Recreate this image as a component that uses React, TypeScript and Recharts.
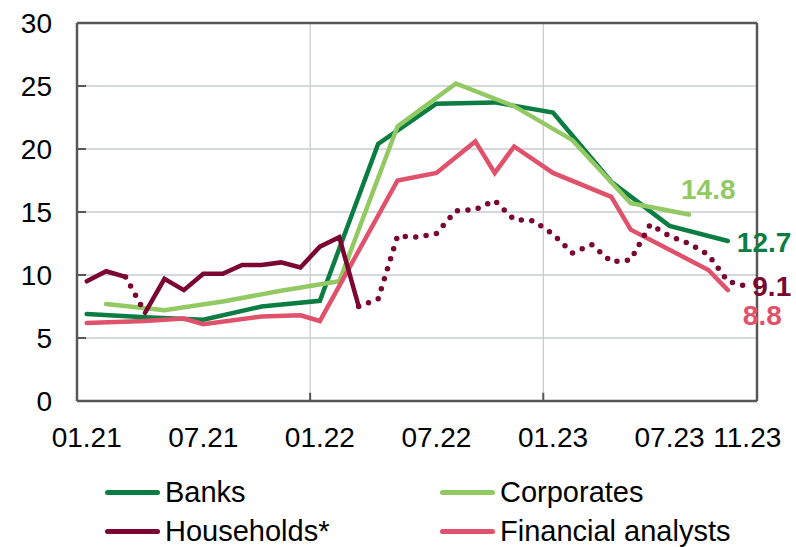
import React from 'react';
import { LineChart, Line, XAxis, YAxis, CartesianGrid, ReferenceLine } from 'recharts';

// ---- data ----
const tickMonths = [0, 6, 12, 18, 24, 30, 34];
const tickLabels = ['01.21', '07.21', '01.22', '07.22', '01.23', '07.23', '11.23'];
const yTicks = [0, 5, 10, 15, 20, 25, 30];
const yearStarts = [12, 24];

const banksMonths = [0, 3, 6, 9, 12, 15, 18, 21, 24, 27, 30, 33];
const banksValues = [6.9, 6.65, 6.45, 7.5, 7.95, 20.4, 23.6, 23.7, 22.9, 17.4, 13.9, 12.7];

const corpMonths = [1, 4, 7, 10, 13, 16, 19, 22, 25, 28, 31];
const corpValues = [7.7, 7.2, 7.9, 8.75, 9.5, 21.8, 25.2, 23.4, 20.7, 15.7, 14.8];

const hhValues = [
  9.5, 10.3, 9.85, 7.0, 9.7, 8.8, 10.1, 10.1, 10.8, 10.8, 11.0, 10.6, 12.25, 13.0, 7.5,
  8.1, 13.1, 13.0, 13.3, 15.1, 15.2, 15.9, 14.4, 14.3, 13.25, 11.75, 12.4, 11.05, 11.2,
  14.0, 13.1, 12.5, 11.6, 9.5, 9.1,
];
const hhSolidRanges: [number, number][] = [[0, 2], [3, 14]];
const hhDottedRanges: [number, number][] = [[2, 3], [14, 34]];

const faMonths = [0, 3, 5, 6, 9, 11, 12, 16, 18, 20, 21, 22, 24, 27, 28, 32, 33];
const faValues = [6.2, 6.35, 6.55, 6.1, 6.7, 6.8, 6.35, 17.5, 18.1, 20.6, 18.1, 20.2, 18.1, 16.2, 13.6, 10.4, 8.8];

// ---- styles ----
const C_BANKS = '#0B7D42';
const C_CORP = '#92C963';
const C_HH = '#7A0631';
const C_FA = '#E0526B';
const C_GRID = '#C8CCD1';
const C_AXIS = '#575757';
const FONT = '"Liberation Sans", Arial, Helvetica, sans-serif';

const toPoints = (months: number[], values: number[]) =>
  months.map((m, k) => ({ x: m + 0.5, v: values[k] }));

const rangePoints = (values: number[], r: [number, number]) => {
  const out: { x: number; v: number }[] = [];
  for (let i = r[0]; i <= r[1]; i++) out.push({ x: i + 0.5, v: values[i] });
  return out;
};

const banksData = toPoints(banksMonths, banksValues);
const corpData = toPoints(corpMonths, corpValues);
const faData = toPoints(faMonths, faValues);
const hhSolid = hhSolidRanges.map((r) => rangePoints(hhValues, r));
const hhDotted = hhDottedRanges.map((r) => rangePoints(hhValues, r));

const endLabel = (n: number, color: string, dx: number, dy: number) => (props: any) => {
  const { x, y, index, value } = props;
  if (index !== n - 1) return <g />;
  return (
    <text x={x + dx} y={y + dy} fill={color} fontSize={28} fontWeight="bold" fontFamily={FONT}>
      {Number(value).toFixed(1)}
    </text>
  );
};

const YTick = (props: any) => {
  const { x, y, payload } = props;
  return (
    <g>
      <line x1={x + 25} x2={x + 34} y1={y} y2={y} stroke={C_AXIS} strokeWidth={2} />
      <text x={x} y={y} dy="0.36em" textAnchor="end" fontSize={28} fontFamily={FONT} fill="#000">
        {payload.value}
      </text>
    </g>
  );
};

const XTick = (props: any) => {
  const { x, y, payload } = props;
  const k = tickMonths.indexOf(payload.value - 0.5);
  return (
    <text x={x} y={y} dy="0.72em" textAnchor="middle" fontSize={28} fontFamily={FONT} fill="#000">
      {tickLabels[k]}
    </text>
  );
};

const legendItems = [
  { name: 'Banks', color: C_BANKS, left: 105, top: 492 },
  { name: 'Corporates', color: C_CORP, left: 440, top: 492 },
  { name: 'Households*', color: C_HH, left: 105, top: 531 },
  { name: 'Financial analysts', color: C_FA, left: 440, top: 531 },
];

export default function App() {
  const lineCommon = {
    type: 'linear' as const,
    dataKey: 'v',
    dot: false,
    activeDot: false,
    isAnimationActive: false,
    strokeLinecap: 'round' as const,
  };
  return (
    <div style={{ position: 'relative', width: 796, height: 547, background: '#fff', overflow: 'hidden' }}>
      <style>{`body{margin:0;}`}</style>
      <LineChart width={796} height={547} margin={{ top: 23, right: 39, left: 0, bottom: 0 }}>
        <CartesianGrid vertical={false} stroke={C_GRID} strokeWidth={1.3} />
        {yearStarts.map((m) => (
          <ReferenceLine key={'g' + m} x={m} stroke={C_GRID} strokeWidth={1.3} />
        ))}
        <XAxis
          type="number"
          dataKey="x"
          domain={[0, 35]}
          ticks={tickMonths.map((m) => m + 0.5)}
          interval={0}
          allowDataOverflow
          height={146}
          tickSize={0}
          tickMargin={26}
          tickLine={false}
          axisLine={{ stroke: C_AXIS, strokeWidth: 2.5 }}
          tick={<XTick />}
        />
        <YAxis
          type="number"
          domain={[0, 30]}
          ticks={yTicks}
          interval={0}
          width={77}
          tickSize={0}
          tickMargin={25}
          tickLine={false}
          axisLine={{ stroke: C_AXIS, strokeWidth: 2.5 }}
          tick={<YTick />}
        />
        {yearStarts.map((m) => (
          <ReferenceLine
            key={'t' + m}
            segment={[{ x: m, y: 0 }, { x: m, y: 0.65 }]}
            stroke={C_AXIS}
            strokeWidth={2}
          />
        ))}
        <Line {...lineCommon} data={banksData} stroke={C_BANKS} strokeWidth={4.5}
          label={endLabel(banksData.length, C_BANKS, 9, 11)} />
        <Line {...lineCommon} data={corpData} stroke={C_CORP} strokeWidth={4.5}
          label={endLabel(corpData.length, C_CORP, -8, -16)} />
        <Line {...lineCommon} data={faData} stroke={C_FA} strokeWidth={4.5}
          label={endLabel(faData.length, C_FA, 15, 35)} />
        {hhSolid.map((d, k) => (
          <Line key={'hs' + k} {...lineCommon} data={d} stroke={C_HH} strokeWidth={4.5} />
        ))}
        {hhDotted.map((d, k) => (
          <Line key={'hd' + k} {...lineCommon} data={d} stroke={C_HH} strokeWidth={5.5}
            strokeDasharray="0 10.5"
            label={k === hhDotted.length - 1 ? endLabel(d.length, C_HH, 5, 10) : undefined} />
        ))}
        <ReferenceLine y={30} stroke={C_AXIS} strokeWidth={2.5} />
        <ReferenceLine x={35} stroke={C_AXIS} strokeWidth={2.5} />
      </LineChart>
      {legendItems.map((it) => (
        <div key={it.name} style={{ position: 'absolute', left: it.left, top: it.top - 13, height: 26, display: 'flex', alignItems: 'center' }}>
          <div style={{ width: 55, height: 5, borderRadius: 3, background: it.color }} />
          <span style={{ marginLeft: 5, fontFamily: FONT, fontSize: 29, color: '#000', lineHeight: '26px' }}>{it.name}</span>
        </div>
      ))}
    </div>
  );
}
